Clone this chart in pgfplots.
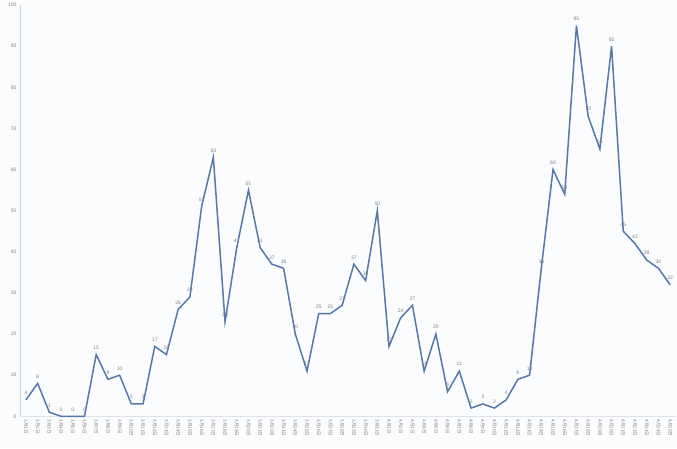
\documentclass[border=0pt]{standalone}
\usepackage{pgfplots}
\pgfplotsset{compat=1.18}
\usepackage{fontspec}
\setmainfont{Liberation Sans}
\newfontfamily\cjk{Noto Sans CJK SC}

\definecolor{bgc}{HTML}{FBFCFE}
\definecolor{linec}{HTML}{5579AB}
\definecolor{txtc}{HTML}{808080}
\definecolor{axc}{HTML}{C9CEDC}

\begin{document}
\begin{tikzpicture}
\fill[bgc] (-20pt,-32pt) rectangle (655pt,414pt);
\begin{axis}[
  scale only axis,
  width=654pt, height=410pt,
  xmin=-0.5, xmax=55.5,
  ymin=0, ymax=100,
  ytick={0,10,...,100},
  xtick={0,...,55},
  xticklabels={3月1日,3月2日,3月3日,3月4日,3月5日,3月6日,3月7日,3月8日,3月9日,3月10日,
    3月11日,3月12日,3月13日,3月14日,3月15日,3月16日,3月17日,3月18日,3月19日,3月20日,
    3月21日,3月22日,3月23日,3月24日,3月25日,3月26日,3月27日,3月28日,3月29日,3月30日,3月31日,
    4月1日,4月2日,4月3日,4月4日,4月5日,4月6日,4月7日,4月8日,4月9日,4月10日,
    4月11日,4月12日,4月13日,4月14日,4月15日,4月16日,4月17日,4月18日,4月19日,4月20日,
    4月21日,4月22日,4月23日,4月24日,4月25日},
  x tick label style={font=\cjk\fontsize{4.5}{5}\selectfont, rotate=-90, anchor=west, text=txtc},
  y tick label style={font=\fontsize{5}{6}\selectfont, text=txtc},
  /pgf/number format/assume math mode=true,
  tick style={draw=none},
  axis x line*=bottom, axis y line*=left,
  x axis line style={draw=axc!60, -},
  y axis line style={draw=axc, line width=0.8pt, -},
  axis background/.style={fill=bgc},
  clip=false,
  nodes near coords,
  every node near coord/.append style={font=\fontsize{5}{6}\selectfont, text=txtc, yshift=1pt},
]
\addplot[linec, line width=1.5pt, mark=none] coordinates {
(0,4) (1,8) (2,1) (3,0) (4,0) (5,0) (6,15) (7,9) (8,10) (9,3)
(10,3) (11,17) (12,15) (13,26) (14,29) (15,51) (16,63) (17,23) (18,41) (19,55)
(20,41) (21,37) (22,36) (23,20) (24,11) (25,25) (26,25) (27,27) (28,37) (29,33)
(30,50) (31,17) (32,24) (33,27) (34,11) (35,20) (36,6) (37,11) (38,2) (39,3)
(40,2) (41,4) (42,9) (43,10) (44,36) (45,60) (46,54) (47,95) (48,73) (49,65)
(50,90) (51,45) (52,42) (53,38) (54,36) (55,32)
};
\end{axis}
\end{tikzpicture}
\end{document}
